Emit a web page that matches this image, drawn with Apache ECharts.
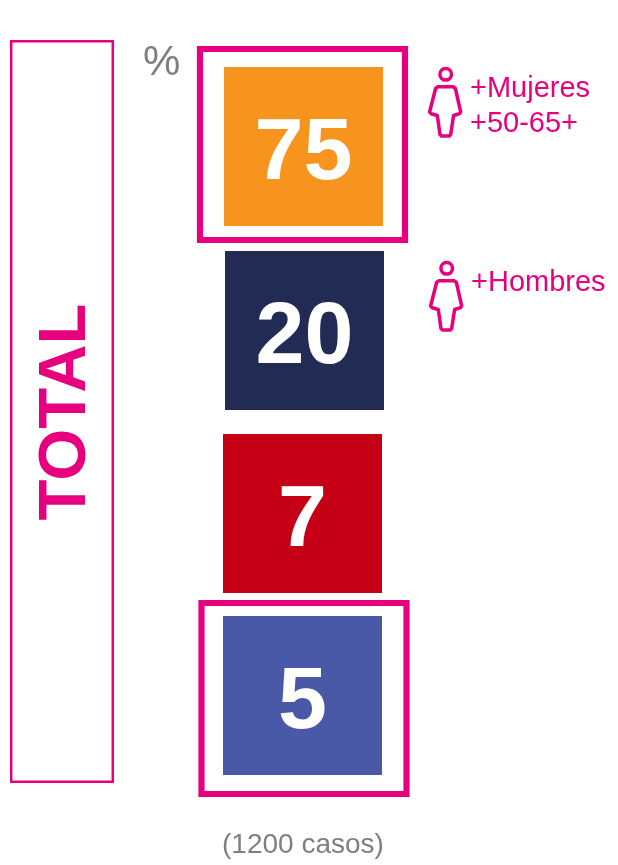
<!DOCTYPE html>
<html><head><meta charset="utf-8">
<style>html,body{margin:0;padding:0;background:#fff}#c{width:618px;height:865px}</style>
<script src="https://cdn.jsdelivr.net/npm/echarts@6/dist/echarts.min.js"></script>
</head><body><div id="c"></div>
<script>
const categories = ['Naranja', 'Azul oscuro', 'Rojo', 'Azul'];
const values = [75, 20, 7, 5];
const highlighted = ['Naranja', 'Azul'];
const columnName = ['TOTAL'];
const colors = ['#F7941D', '#222B54', '#C50016', '#4A59A7'];
const nudges = [[0.5, 0], [1.5, 1], [-0.5, 1], [-0.5, 0]];
const frameNudges = {Naranja: [-0.5, -2], Azul: [1, 3]};
const PINK = '#E6007E', GREY = '#7F7F7F', FONT = '"Liberation Sans", Arial, sans-serif';
const personOutline = [[438,86.7],[453,86.7],[455.4,88.5],[460.7,112],[459.5,113.7],[453.6,115.5],[450.7,134.5],[449.3,136],[441.5,136],[440,134.5],[437.3,115.5],[431,113.7],[429.6,112],[435.6,88.5]];

function person(dx, dy) {
  return {type: 'group', x: dx, y: dy, children: [
    {type: 'circle', shape: {cx: 445.7, cy: 74.3, r: 5.8}, style: {fill: 'none', stroke: PINK, lineWidth: 3.5}},
    {type: 'polygon', shape: {points: personOutline}, style: {fill: 'none', stroke: PINK, lineWidth: 3.5, lineJoin: 'round'}}
  ]};
}
function txt(t, x, y, size, color) {
  return {type: 'text', x: x, y: y, style: {text: t, fill: color, font: size + 'px ' + FONT}};
}

const chart = echarts.init(document.getElementById('c'), null, {renderer: 'canvas'});
chart.setOption({
  animation: false,
  backgroundColor: '#fff',
  grid: {left: 0, width: 606, top: 55, height: 732},
  xAxis: {type: 'category', data: columnName, show: false},
  yAxis: {type: 'category', data: categories, inverse: true, show: false},
  series: [
    {
      type: 'scatter',
      symbol: 'rect',
      symbolSize: 159,
      symbolOffset: (v, p) => nudges[p.dataIndex],
      data: categories.map((c, i) => ({value: [columnName[0], c, values[i]], itemStyle: {color: colors[i], opacity: 1}})),
      label: {
        show: true, position: 'inside', offset: [0, 8], color: '#fff', fontFamily: FONT, fontWeight: 'bold', fontSize: 88,
        formatter: p => String(p.value[2])
      },
      silent: true
    },
    {
      type: 'scatter',
      symbol: 'rect',
      symbolSize: [205, 191],
      symbolOffset: (v, p) => frameNudges[highlighted[p.dataIndex]],
      data: highlighted.map(c => [columnName[0], c]),
      itemStyle: {color: 'rgba(0,0,0,0)', borderColor: PINK, borderWidth: 6, opacity: 1},
      silent: true
    }
  ],
  graphic: [
    {type: 'rect', shape: {x: 11.2, y: 41.2, width: 101.6, height: 740.6}, style: {fill: 'none', stroke: PINK, lineWidth: 2.5}},
    {type: 'text', x: 67, y: 412, rotation: Math.PI / 2, style: {text: columnName[0], fill: PINK, font: 'bold 67px ' + FONT, align: 'center', verticalAlign: 'middle'}},
    txt('%', 143, 42, 42, GREY),
    txt('(1200 casos)', 222, 831, 28, GREY),
    person(0, 0), person(1, 194),
    txt('+Mujeres', 470, 74, 29, PINK),
    txt('+50-65+', 470, 109, 29, PINK),
    txt('+Hombres', 471, 268, 29, PINK)
  ]
});
</script></body></html>
